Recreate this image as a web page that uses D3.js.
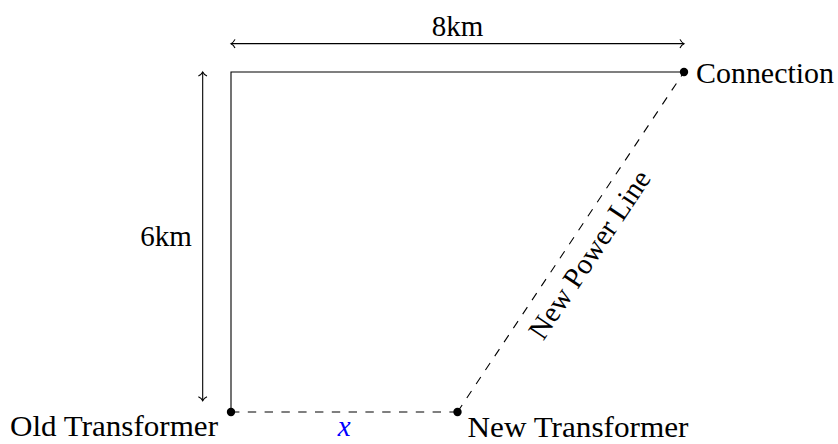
<!DOCTYPE html>
<html>
<head>
<meta charset="utf-8">
<script src="https://cdn.jsdelivr.net/npm/d3@7"></script>
</head>
<body style="margin:0">
<div id="chart"></div>
<script>
// Geometry in km
const xDomain = [0, 8];
const yDomain = [0, 6];

// Solid edges: left side and top side
const solidPath = [[0, 0], [0, 6], [8, 6]];
// Dashed: x along the bottom, then the new power line
const dashedPath = [[0, 0], [4, 0], [8, 6]];

// Points with labels
const pointNames = ['Old Transformer', 'New Transformer', 'Connection'];
const pointX = [0, 4, 8];
const pointY = [0, 0, 6];

// Dimension arrows
const dimLabels = ['8km', '6km'];
const dimFrom = [[0, 6.5], [-0.5, 0.2]];
const dimTo = [[8, 6.5], [-0.5, 6]];

const width = 838;
const height = 444;

const xScale = d3.scaleLinear().domain(xDomain).range([231, 684]);
const yScale = d3.scaleLinear().domain(yDomain).range([412, 72]);

const svg = d3.select('#chart').append('svg')
  .attr('width', width)
  .attr('height', height);

const pathGen = d3.line()
  .x(d => xScale(d[0]))
  .y(d => yScale(d[1]));

// Solid rectangle edges
svg.append('path')
  .attr('d', pathGen(solidPath))
  .attr('fill', 'none')
  .attr('stroke', '#000')
  .attr('stroke-width', 1.1);

// Dashed lines, one segment at a time so dashes restart
for (let i = 0; i < dashedPath.length - 1; i++) {
  svg.append('path')
    .attr('d', pathGen([dashedPath[i], dashedPath[i + 1]]))
    .attr('fill', 'none')
    .attr('stroke', '#000')
    .attr('stroke-width', 1.1)
    .attr('stroke-dasharray', '8.4,8.4');
}

// Arrow tip (tikz "to" style), pointing along +x at origin
function arrowTip(g, px, py, angle) {
  g.append('path')
    .attr('d', 'M-4,-4.3 C-3,-2.2 -1.2,-0.6 0,0 C-1.2,0.6 -3,2.2 -4,4.3')
    .attr('transform', `translate(${px},${py}) rotate(${angle})`)
    .attr('fill', 'none')
    .attr('stroke', '#000')
    .attr('stroke-width', 1.1);
}

const dims = svg.append('g');
dimLabels.forEach((lab, i) => {
  const x1 = xScale(dimFrom[i][0]), y1 = yScale(dimFrom[i][1]);
  const x2 = xScale(dimTo[i][0]), y2 = yScale(dimTo[i][1]);
  dims.append('line')
    .attr('x1', x1).attr('y1', y1)
    .attr('x2', x2).attr('y2', y2)
    .attr('stroke', '#000')
    .attr('stroke-width', 1.1);
  const ang = Math.atan2(y2 - y1, x2 - x1) * 180 / Math.PI;
  arrowTip(dims, x2, y2, ang);
  arrowTip(dims, x1, y1, ang + 180);
});

function addText(px, py, str) {
  return svg.append('text')
    .attr('x', px)
    .attr('y', py)
    .attr('font-family', 'Liberation Serif')
    .style('font-family', '"Liberation Serif"')
    .style('font-size', '29px')
    .text(str);
}

// Stretch a label a little to the width of the original typeset text
function stretch(sel, w) {
  return sel.attr('textLength', w).attr('lengthAdjust', 'spacingAndGlyphs');
}

// Dimension labels
addText((xScale(dimFrom[0][0]) + xScale(dimTo[0][0])) / 2, yScale(dimTo[0][1]) - 8, dimLabels[0])
  .attr('text-anchor', 'middle');

addText(xScale(dimFrom[1][0]) - 11, (yScale(dimFrom[1][1]) + yScale(dimTo[1][1])) / 2 + 10, dimLabels[1])
  .attr('text-anchor', 'end');

// Points
svg.selectAll('circle.pt')
  .data(pointNames)
  .enter().append('circle')
  .attr('class', 'pt')
  .attr('cx', (d, i) => xScale(pointX[i]))
  .attr('cy', (d, i) => yScale(pointY[i]))
  .attr('r', 4.2)
  .attr('fill', '#000');

// Point labels
stretch(addText(xScale(pointX[0]) - 221, yScale(pointY[0]) + 24, pointNames[0]), 208);
stretch(addText(xScale(pointX[1]) + 10, yScale(pointY[1]) + 25, pointNames[1]), 221);
stretch(addText(xScale(pointX[2]) + 12, yScale(pointY[2]) + 11, pointNames[2]), 138);

// x label under the bottom dashed segment
addText((xScale(dashedPath[0][0]) + xScale(dashedPath[1][0])) / 2, yScale(0) + 24, 'x')
  .attr('text-anchor', 'middle')
  .style('font-style', 'italic')
  .attr('fill', '#0000ff');

// Sloped label for the new power line
const p1 = dashedPath[1], p2 = dashedPath[2];
const mx = (xScale(p1[0]) + xScale(p2[0])) / 2;
const my = (yScale(p1[1]) + yScale(p2[1])) / 2;
const dx = xScale(p2[0]) - xScale(p1[0]);
const dy = yScale(p2[1]) - yScale(p1[1]);
const len = Math.sqrt(dx * dx + dy * dy);
const nx = -dy / len, ny = dx / len; // normal pointing lower-right
const off = 22;
const angle = Math.atan2(dy, dx) * 180 / Math.PI;
stretch(addText(0, 0, 'New Power Line'), 196)
  .attr('transform', `translate(${mx + nx * off},${my + ny * off}) rotate(${angle})`)
  .attr('text-anchor', 'middle')
  .attr('dy', '0.35em');
</script>
</body>
</html>
